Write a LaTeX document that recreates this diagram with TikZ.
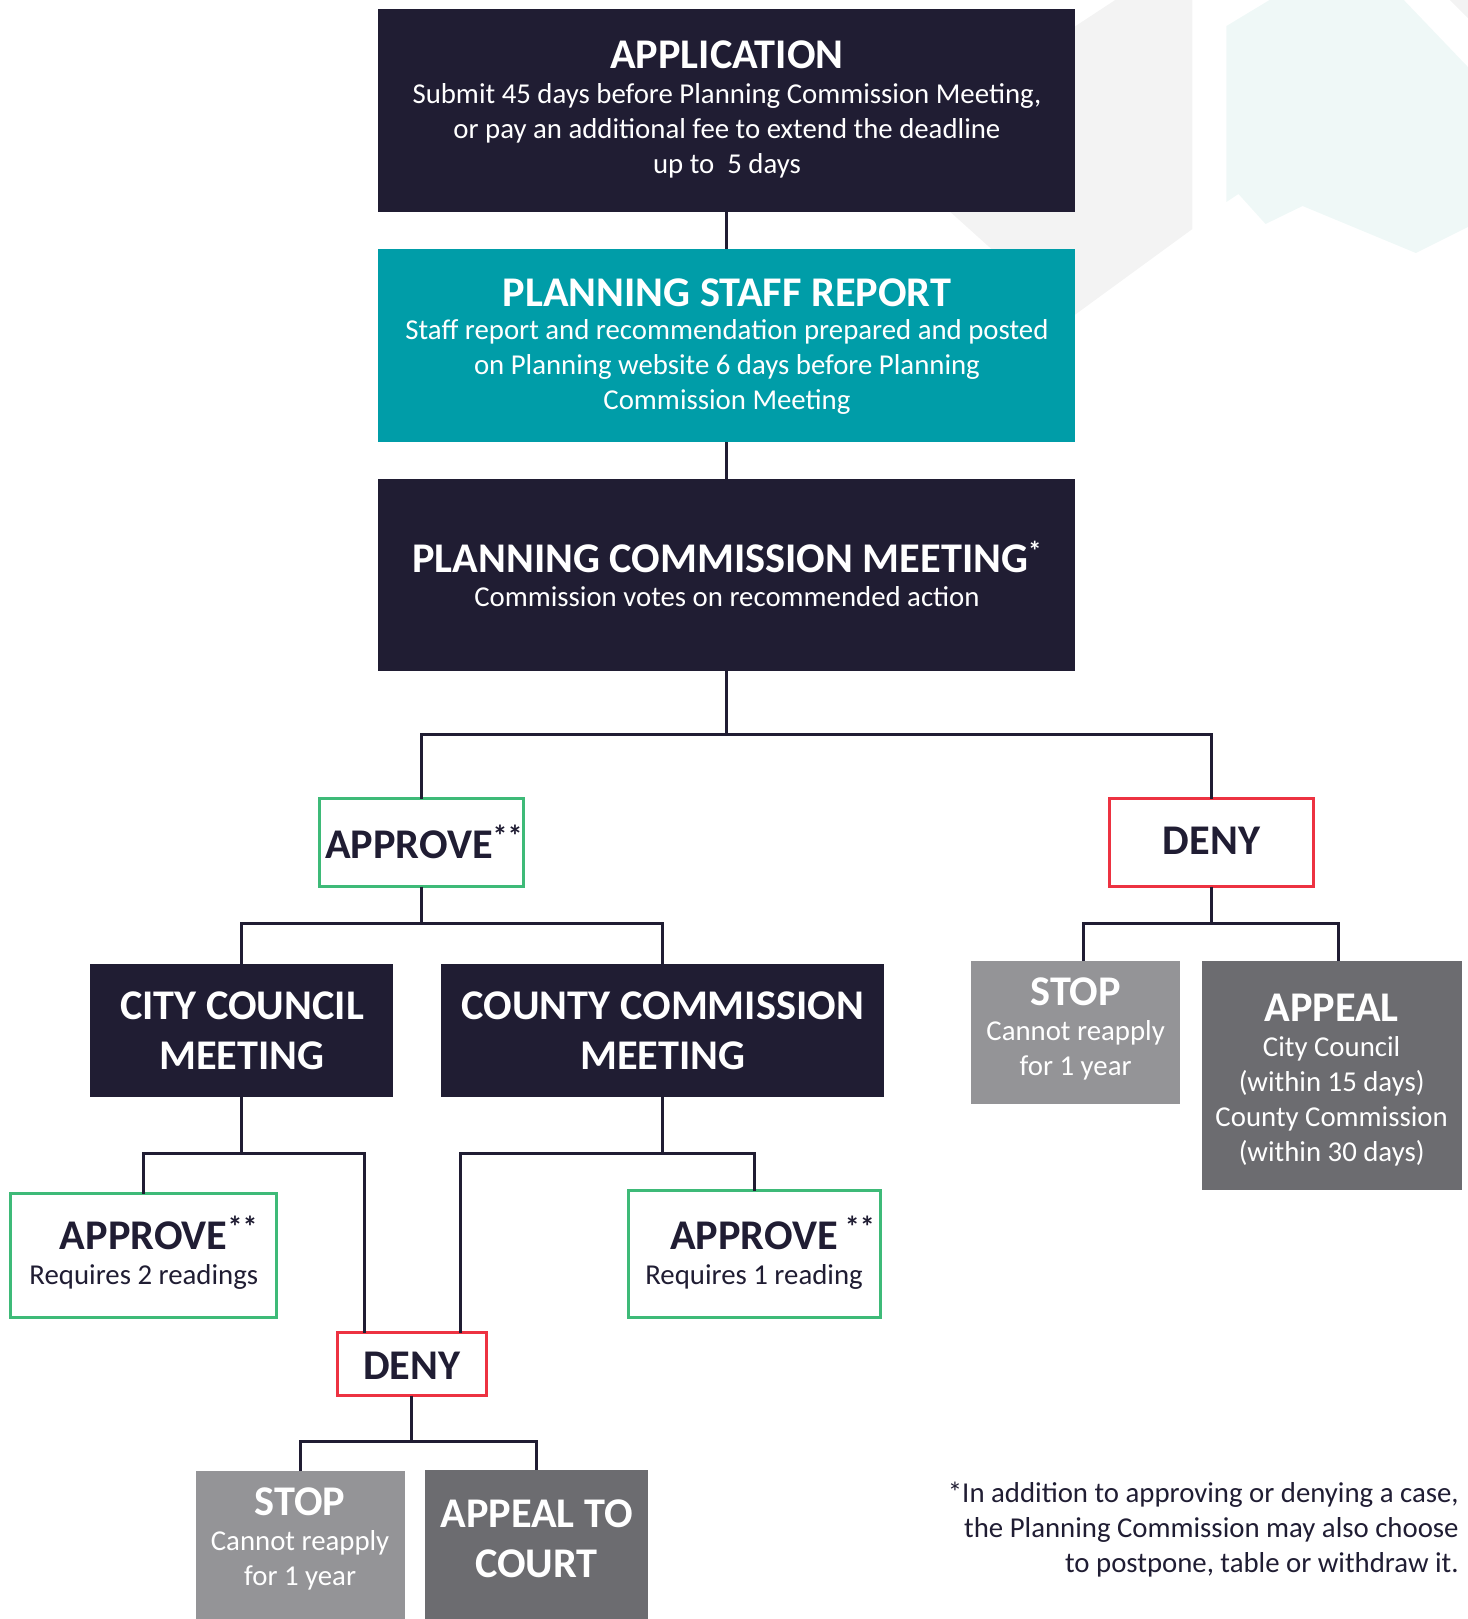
\documentclass[tikz,border=0pt]{standalone}
\usepackage{fontspec}
\setmainfont{Carlito}
\usetikzlibrary{calc}
\definecolor{navy}{RGB}{32,29,51}
\definecolor{tealbox}{RGB}{0,157,168}
\definecolor{greenb}{RGB}{62,186,120}
\definecolor{redb}{RGB}{237,50,65}
\definecolor{lgrey}{RGB}{148,148,151}
\definecolor{dgrey}{RGB}{108,108,112}
\definecolor{bgrey}{RGB}{243,243,243}
\definecolor{bteal}{RGB}{239,248,247}
\newcommand\ctext[1]{\vtop{\halign{\hfil##\hfil\cr#1\crcr}}}
\newcommand\rtext[1]{\vtop{\halign{\hfil##\cr#1\crcr}}}
\newcommand\stars[2][30]{\raisebox{12pt}{\fontsize{#1}{#1}\selectfont #2}}
\tikzset{
  box/.style={inner sep=0pt, outer sep=0pt, draw=none, rectangle},
  darkbox/.style={box, fill=navy},
  tealbx/.style={box, fill=tealbox},
  lgbox/.style={box, fill=lgrey},
  dgbox/.style={box, fill=dgrey},
  outline/.style={box, fill=white, draw=#1, line width=3pt},
  head/.style={font=\bfseries\fontsize{42.3}{50}\selectfont, text=white, anchor=base, inner sep=0pt},
  headdark/.style={head, text=navy},
  body/.style={font=\fontsize{28.8}{35}\selectfont, text=white, anchor=base, inner sep=0pt},
  bodydark/.style={body, text=navy},
  link/.style={draw=navy, line width=3pt}
}
\begin{document}
\begin{tikzpicture}[x=1.002pt,y=-1pt]
\useasboundingbox (0,0) rectangle (1465,1619);
% background shapes
\fill[bgrey] (882,152) -- (1113,0) -- (1190,0) -- (1190,229) -- (1067,319) -- cycle;
\fill[bteal] (1224,26) -- (1267,0) -- (1401,0) -- (1465,67) -- (1465,227) -- (1413,253) -- (1300,206) -- (1263,224) -- (1236,194) -- (1224,202) -- cycle;
\fill[bgrey] (1447,0) -- (1465,0) -- (1465,18) -- cycle;
% boxes
\node[darkbox, minimum width=697pt, minimum height=203pt] (app) at (725.5,110.5) {};
\node[tealbx, minimum width=697pt, minimum height=193pt] (staff) at (725.5,345.5) {};
\node[darkbox, minimum width=697pt, minimum height=192pt] (pcm) at (725.5,575) {};
\node[outline=greenb, minimum width=204pt, minimum height=88pt] (ap1) at (421,842.5) {};
\node[outline=redb, minimum width=204pt, minimum height=88pt] (de1) at (1209,842.5) {};
\node[darkbox, minimum width=303pt, minimum height=133pt] (city) at (241.5,1030.5) {};
\node[darkbox, minimum width=443pt, minimum height=133pt] (county) at (661.5,1030.5) {};
\node[lgbox, minimum width=209pt, minimum height=143pt] (stop1) at (1073.5,1032.5) {};
\node[dgbox, minimum width=260pt, minimum height=229pt] (appeal1) at (1329,1075.5) {};
\node[outline=greenb, minimum width=266pt, minimum height=124pt] (ap2) at (143.5,1255.5) {};
\node[outline=greenb, minimum width=252pt, minimum height=127pt] (ap3) at (752.5,1254) {};
\node[outline=redb, minimum width=149pt, minimum height=63pt] (de2) at (411,1364) {};
\node[lgbox, minimum width=209pt, minimum height=148pt] (stop2) at (299.5,1545) {};
\node[dgbox, minimum width=223pt, minimum height=149pt] (court) at (535.5,1544.5) {};
% texts
\node[head] (appT) at (725.5,68) {APPLICATION};
\node[body] (appB) at (725.5,103) {\ctext{Submit 45 days before Planning Commission Meeting,\cr or pay an additional fee to extend the deadline\cr up to\ \ 5 days}};
\node[head] (staffT) at (725.5,306) {PLANNING STAFF REPORT};
\node[body] (staffB) at (725.5,339) {\ctext{Staff report and recommendation prepared and posted\cr on Planning website 6 days before Planning\cr Commission Meeting}};
\node[head] (pcmT) at (725.5,572) {PLANNING COMMISSION MEETING\stars[27]{*}};
\node[body] (pcmB) at (725.5,606) {Commission votes on recommended action};
\node[headdark] (ap1T) at (423,858) {APPROVE\stars{**}};
\node[headdark] (de1T) at (1209,854) {DENY};
\node[head] (cityT) at (241.5,1019) {\ctext{CITY COUNCIL\cr MEETING}};
\node[head] (countyT) at (661.5,1019) {\ctext{COUNTY COMMISSION\cr MEETING}};
\node[head] (stop1T) at (1073.5,1005) {STOP};
\node[body] (stop1B) at (1073.5,1040) {\ctext{Cannot reapply\cr for 1 year}};
\node[head] (appeal1T) at (1329,1021) {APPEAL};
\node[body] (appeal1B) at (1329,1056) {\ctext{City Council\cr (within 15 days)\cr County Commission\cr (within 30 days)}};
\node[headdark] (ap2T) at (143.5,1249) {APPROVE\rlap{\stars{**}}};
\node[bodydark] (ap2B) at (143.5,1284) {Requires 2 readings};
\node[headdark] (ap3T) at (752.5,1249) {APPROVE\rlap{\,\stars{**}}};
\node[bodydark] (ap3B) at (752.5,1284) {Requires 1 reading};
\node[headdark] (de2T) at (411,1379) {DENY};
\node[head] (stop2T) at (299.5,1515) {STOP};
\node[body] (stop2B) at (299.5,1550) {\ctext{Cannot reapply\cr for 1 year}};
\node[head] (courtT) at (535.5,1527) {\ctext{APPEAL TO\cr COURT}};
\node[bodydark, anchor=base east] (note) at (1456,1502) {\rtext{*In addition to approving or denying a case,\cr the Planning Commission may also choose\cr to postpone, table or withdraw it.}};
% connectors
\coordinate (j1) at (0,734);
\coordinate (j2) at (0,923);
\coordinate (j4) at (0,1153);
\coordinate (j5) at (0,1441);
\draw[link] (app.south) -- (staff.north);
\draw[link] (staff.south) -- (pcm.north);
\draw[link] (pcm.south) -- (pcm.south |- j1);
\draw[link] (ap1.north) |- (de1.north |- j1) -- (de1.north);
\draw[link] (ap1.south) -- (ap1.south |- j2);
\draw[link] (city.north) |- (county.north |- j2) -- (county.north);
\draw[link] (de1.south) -- (de1.south |- j2);
\coordinate (s1top) at ($(stop1.north)+(8,0)$);
\coordinate (a1top) at ($(appeal1.north)+(7,0)$);
\draw[link] (s1top) |- (a1top |- j2) -- (a1top);
\draw[link] (city.south) -- (city.south |- j4);
\coordinate (d2l) at ($(de2.north)+(-47,0)$);
\coordinate (d2r) at ($(de2.north)+(49,0)$);
\draw[link] (ap2.north) |- (d2l |- j4) -- (d2l);
\draw[link] (county.south) -- (county.south |- j4);
\draw[link] (d2r) |- (ap3.north |- j4) -- (ap3.north);
\draw[link] (de2.south) -- (de2.south |- j5);
\draw[link] (stop2.north) |- (court.north |- j5) -- (court.north);
\end{tikzpicture}
\end{document}
